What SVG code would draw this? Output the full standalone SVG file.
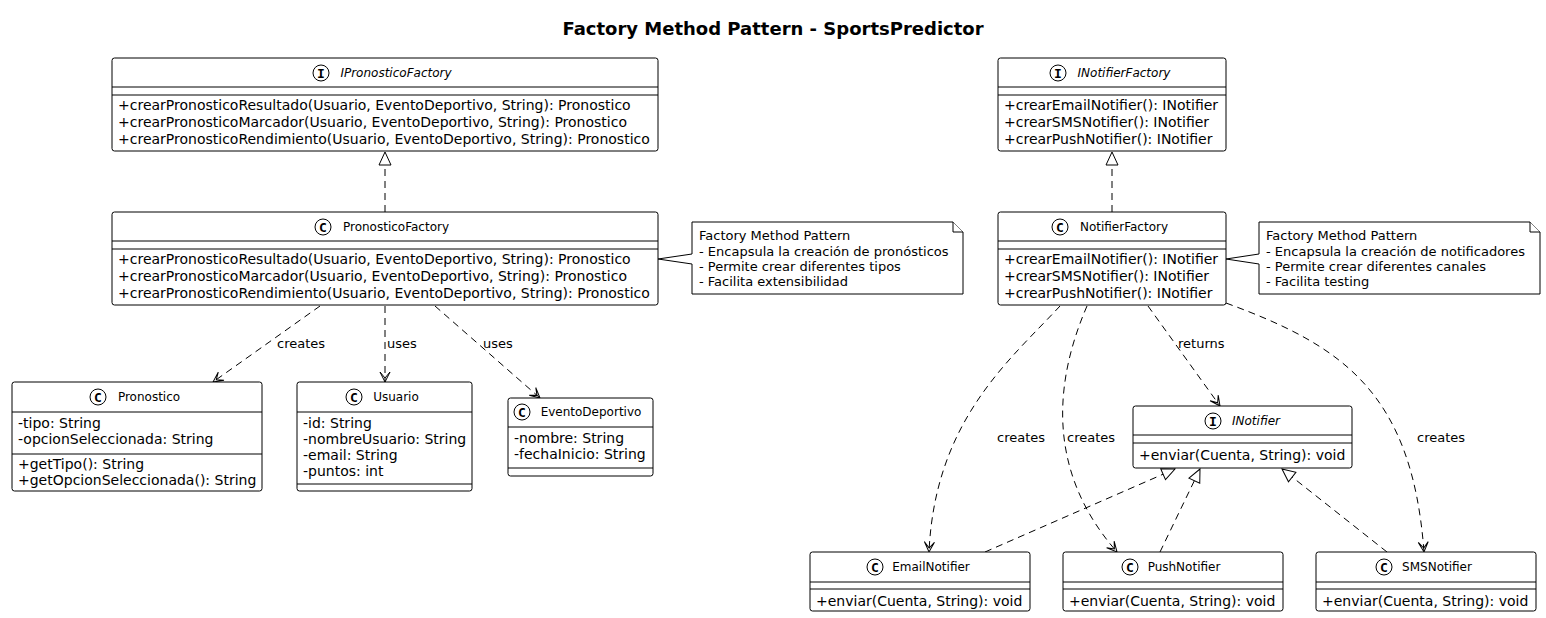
<svg xmlns="http://www.w3.org/2000/svg" width="1546" height="618" viewBox="0 0 1546 618">
<defs>
<style>
.box{fill:#fff;stroke:#000;stroke-width:1}
.sep{stroke:#000;stroke-width:1}
.name{font-family:"DejaVu Sans",sans-serif;font-size:12px;fill:#000;text-anchor:middle}
.iname{font-family:"DejaVu Sans",sans-serif;font-size:12px;font-style:italic;fill:#000;text-anchor:middle}
.mem{font-family:"DejaVu Sans",sans-serif;font-size:14px;fill:#000}
.nt{font-family:"DejaVu Sans",sans-serif;font-size:13px;fill:#000}
.lbl{font-family:"DejaVu Sans",sans-serif;font-size:13px;fill:#000}
.icon{fill:#fff;stroke:#000;stroke-width:1}
.ic{font-family:"DejaVu Sans Mono",monospace;font-size:13px;font-weight:bold;fill:#000;text-anchor:middle}
.dash{fill:none;stroke:#000;stroke-width:1;stroke-dasharray:7,5}
.dep{marker-end:url(#open)}
.real{marker-end:url(#tri)}
.note{fill:#fff;stroke:#000;stroke-width:1}
</style>
<marker id="open" viewBox="-12 -7 14 14" refX="0" refY="0" markerWidth="14" markerHeight="14" orient="auto" markerUnits="userSpaceOnUse">
<path d="M-10,-5 L0,0 L-10,5 M-10,-5 L-4,0 L-10,5" fill="none" stroke="#000" stroke-width="1" stroke-dasharray="none"/>
</marker>
<marker id="tri" viewBox="-15 -8 16 16" refX="0" refY="0" markerWidth="16" markerHeight="16" orient="auto" markerUnits="userSpaceOnUse">
<path d="M0,0 L-13,-6 L-13,6 Z" fill="#fff" stroke="#000" stroke-width="1" stroke-dasharray="none"/>
</marker>
</defs>
<rect width="1546" height="618" fill="#fff"/>
<text x="773" y="35" text-anchor="middle" font-family="DejaVu Sans, sans-serif" font-size="18" font-weight="bold">Factory Method Pattern - SportsPredictor</text>

<g id="connectors">
<path class="dash real" d="M385,212 L385,152"/>
<path class="dash real" d="M1112,212 L1112,152"/>
<path class="dash dep" d="M320,306 L213,382"/>
<text class="lbl" x="277" y="348">creates</text>
<path class="dash dep" d="M385,306 L385,382"/>
<text class="lbl" x="387" y="348">uses</text>
<path class="dash dep" d="M435,306 L540,398"/>
<text class="lbl" x="483" y="348">uses</text>
<path class="dash dep" d="M1148,306 L1220,406"/>
<text class="lbl" x="1178" y="348">returns</text>
<path class="dash dep" d="M1060,306 C1010,360 935,420 929,552"/>
<text class="lbl" x="997" y="442">creates</text>
<path class="dash dep" d="M1087,306 C1055,380 1045,470 1117,552"/>
<text class="lbl" x="1067" y="442">creates</text>
<path class="dash dep" d="M1226,303 C1340,345 1412,390 1424,552"/>
<text class="lbl" x="1417" y="442">creates</text>
<path class="dash real" d="M985,552 L1175,469"/>
<path class="dash real" d="M1160,552 L1200,469"/>
<path class="dash real" d="M1387,552 L1282,469"/>
</g>

<g id="IPronosticoFactory">
<rect class="box" x="112" y="58" width="546" height="93" rx="2.5"/>
<circle class="icon" cx="321" cy="73" r="8"/><text class="ic" x="321" y="77.5">I</text>
<text class="iname" x="396" y="77">IPronosticoFactory</text>
<line class="sep" x1="112" y1="87" x2="658" y2="87"/>
<line class="sep" x1="112" y1="95" x2="658" y2="95"/>
<text class="mem" x="118" y="110">+crearPronosticoResultado(Usuario, EventoDeportivo, String): Pronostico</text>
<text class="mem" x="118" y="127">+crearPronosticoMarcador(Usuario, EventoDeportivo, String): Pronostico</text>
<text class="mem" x="118" y="144">+crearPronosticoRendimiento(Usuario, EventoDeportivo, String): Pronostico</text>
</g>

<g id="PronosticoFactory">
<rect class="box" x="112" y="212" width="546" height="93" rx="2.5"/>
<circle class="icon" cx="323" cy="227" r="8"/><text class="ic" x="323" y="231.5">C</text>
<text class="name" x="396" y="231">PronosticoFactory</text>
<line class="sep" x1="112" y1="241" x2="658" y2="241"/>
<line class="sep" x1="112" y1="249" x2="658" y2="249"/>
<text class="mem" x="118" y="264">+crearPronosticoResultado(Usuario, EventoDeportivo, String): Pronostico</text>
<text class="mem" x="118" y="281">+crearPronosticoMarcador(Usuario, EventoDeportivo, String): Pronostico</text>
<text class="mem" x="118" y="298">+crearPronosticoRendimiento(Usuario, EventoDeportivo, String): Pronostico</text>
</g>

<g id="note1">
<path class="note" d="M692,222 L953,222 L963,232 L963,294 L692,294 L692,264 L658,259 L692,254 Z"/>
<path class="note" d="M953,222 L953,232 L963,232"/>
<text class="nt" x="699" y="240">Factory Method Pattern</text>
<text class="nt" x="699" y="256">- Encapsula la creación de pronósticos</text>
<text class="nt" x="699" y="271">- Permite crear diferentes tipos</text>
<text class="nt" x="699" y="286">- Facilita extensibilidad</text>
</g>

<g id="INotifierFactory">
<rect class="box" x="998" y="58" width="228" height="93" rx="2.5"/>
<circle class="icon" cx="1058" cy="73" r="8"/><text class="ic" x="1058" y="77.5">I</text>
<text class="iname" x="1124" y="77">INotifierFactory</text>
<line class="sep" x1="998" y1="87" x2="1226" y2="87"/>
<line class="sep" x1="998" y1="95" x2="1226" y2="95"/>
<text class="mem" x="1004" y="110">+crearEmailNotifier(): INotifier</text>
<text class="mem" x="1004" y="127">+crearSMSNotifier(): INotifier</text>
<text class="mem" x="1004" y="144">+crearPushNotifier(): INotifier</text>
</g>

<g id="NotifierFactory">
<rect class="box" x="998" y="212" width="228" height="93" rx="2.5"/>
<circle class="icon" cx="1060" cy="227" r="8"/><text class="ic" x="1060" y="231.5">C</text>
<text class="name" x="1124" y="231">NotifierFactory</text>
<line class="sep" x1="998" y1="241" x2="1226" y2="241"/>
<line class="sep" x1="998" y1="249" x2="1226" y2="249"/>
<text class="mem" x="1004" y="264">+crearEmailNotifier(): INotifier</text>
<text class="mem" x="1004" y="281">+crearSMSNotifier(): INotifier</text>
<text class="mem" x="1004" y="298">+crearPushNotifier(): INotifier</text>
</g>

<g id="note2">
<path class="note" d="M1259,222 L1530,222 L1540,232 L1540,294 L1259,294 L1259,264 L1226,259 L1259,254 Z"/>
<path class="note" d="M1530,222 L1530,232 L1540,232"/>
<text class="nt" x="1266" y="240">Factory Method Pattern</text>
<text class="nt" x="1266" y="256">- Encapsula la creación de notificadores</text>
<text class="nt" x="1266" y="271">- Permite crear diferentes canales</text>
<text class="nt" x="1266" y="286">- Facilita testing</text>
</g>

<g id="Pronostico">
<rect class="box" x="12" y="382" width="250" height="109" rx="2.5"/>
<circle class="icon" cx="98" cy="397" r="8"/><text class="ic" x="98" y="401.5">C</text>
<text class="name" x="149" y="401">Pronostico</text>
<line class="sep" x1="12" y1="412" x2="262" y2="412"/>
<text class="mem" x="18" y="428">-tipo: String</text>
<text class="mem" x="18" y="444">-opcionSeleccionada: String</text>
<line class="sep" x1="12" y1="454" x2="262" y2="454"/>
<text class="mem" x="18" y="469">+getTipo(): String</text>
<text class="mem" x="18" y="485">+getOpcionSeleccionada(): String</text>
</g>

<g id="Usuario">
<rect class="box" x="297" y="382" width="175" height="109" rx="2.5"/>
<circle class="icon" cx="354" cy="397" r="8"/><text class="ic" x="354" y="401.5">C</text>
<text class="name" x="396" y="401">Usuario</text>
<line class="sep" x1="297" y1="412" x2="472" y2="412"/>
<text class="mem" x="303" y="428">-id: String</text>
<text class="mem" x="303" y="444">-nombreUsuario: String</text>
<text class="mem" x="303" y="460">-email: String</text>
<text class="mem" x="303" y="476">-puntos: int</text>
<line class="sep" x1="297" y1="484" x2="472" y2="484"/>
</g>

<g id="EventoDeportivo">
<rect class="box" x="508" y="398" width="145" height="78" rx="2.5"/>
<circle class="icon" cx="522" cy="412" r="8"/><text class="ic" x="522" y="416.5">C</text>
<text class="name" x="591" y="416">EventoDeportivo</text>
<line class="sep" x1="508" y1="427" x2="653" y2="427"/>
<text class="mem" x="514" y="443">-nombre: String</text>
<text class="mem" x="514" y="459">-fechaInicio: String</text>
<line class="sep" x1="508" y1="468" x2="653" y2="468"/>
</g>

<g id="INotifier">
<rect class="box" x="1133" y="406" width="219" height="62" rx="2.5"/>
<circle class="icon" cx="1213" cy="421" r="8"/><text class="ic" x="1213" y="425.5">I</text>
<text class="iname" x="1256" y="425">INotifier</text>
<line class="sep" x1="1133" y1="435" x2="1352" y2="435"/>
<line class="sep" x1="1133" y1="443" x2="1352" y2="443"/>
<text class="mem" x="1139" y="460">+enviar(Cuenta, String): void</text>
</g>

<g id="EmailNotifier">
<rect class="box" x="810" y="552" width="220" height="59" rx="2.5"/>
<circle class="icon" cx="875" cy="567" r="8"/><text class="ic" x="875" y="571.5">C</text>
<text class="name" x="931" y="571">EmailNotifier</text>
<line class="sep" x1="810" y1="582" x2="1030" y2="582"/>
<line class="sep" x1="810" y1="589" x2="1030" y2="589"/>
<text class="mem" x="816" y="606">+enviar(Cuenta, String): void</text>
</g>

<g id="PushNotifier">
<rect class="box" x="1063" y="552" width="220" height="59" rx="2.5"/>
<circle class="icon" cx="1130" cy="567" r="8"/><text class="ic" x="1130" y="571.5">C</text>
<text class="name" x="1184" y="571">PushNotifier</text>
<line class="sep" x1="1063" y1="582" x2="1283" y2="582"/>
<line class="sep" x1="1063" y1="589" x2="1283" y2="589"/>
<text class="mem" x="1069" y="606">+enviar(Cuenta, String): void</text>
</g>

<g id="SMSNotifier">
<rect class="box" x="1316" y="552" width="220" height="59" rx="2.5"/>
<circle class="icon" cx="1384" cy="567" r="8"/><text class="ic" x="1384" y="571.5">C</text>
<text class="name" x="1437" y="571">SMSNotifier</text>
<line class="sep" x1="1316" y1="582" x2="1536" y2="582"/>
<line class="sep" x1="1316" y1="589" x2="1536" y2="589"/>
<text class="mem" x="1322" y="606">+enviar(Cuenta, String): void</text>
</g>
</svg>
